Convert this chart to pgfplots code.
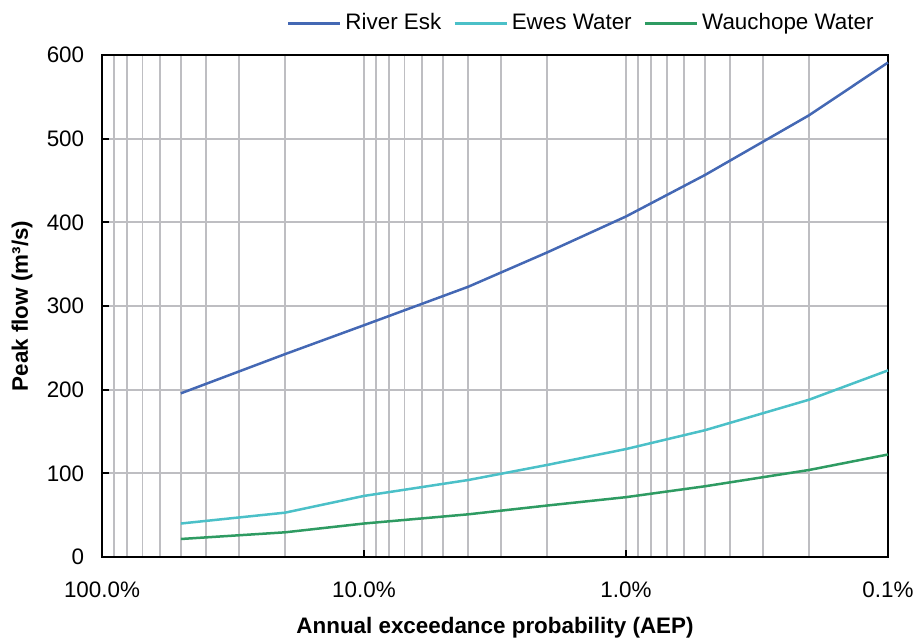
\documentclass[border=0pt]{standalone}
\usepackage{fontspec}
\setmainfont{Liberation Sans}
\usepackage{pgfplots}
\pgfplotsset{compat=1.18}
\definecolor{esk}{HTML}{4468B4}
\definecolor{ewes}{HTML}{4BC0C8}
\definecolor{wau}{HTML}{2E9B62}
\definecolor{gridc}{HTML}{BEBEC2}
\begin{document}
\fontsize{11.2}{13}\selectfont
\begin{tikzpicture}
\begin{axis}[
  scale only axis,
  width=393pt, height=251pt,
  xmode=log, x dir=reverse,
  xmin=0.1, xmax=100,
  ymin=0, ymax=600,
  ytick={0,100,...,600},
  xtick={100,10,1,0.1},
  xticklabels={100.0\%,10.0\%,1.0\%,0.1\%},
  minor xtick={90,80,70,60,50,40,30,20,9,8,7,6,5,4,3,2,0.9,0.8,0.7,0.6,0.5,0.4,0.3,0.2},
  grid=both,
  major grid style={gridc, line width=0.9pt},
  minor grid style={gridc, line width=0.9pt},
  axis line style={black, line width=1pt},
  tick style={black, line width=1pt},
  minor tick length=0pt,
  major tick length=3.5pt,
  tick align=inside,
  xtick pos=bottom, ytick pos=left,
  /pgf/number format/assume math mode=true,
  tick label style={font=\fontsize{11.2}{13}\selectfont},
  xticklabel style={yshift=-8.5pt},
  yticklabel style={xshift=-5pt},
  xlabel={\textbf{Annual exceedance probability (AEP)}},
  ylabel={\textbf{Peak flow (m³/s)}},
  xlabel style={at={(axis description cs:0.5,-0.141)}, anchor=center},
  ylabel style={at={(axis description cs:-0.1018,0.5)}, anchor=center},
  legend style={at={(axis description cs:1,1)}, anchor=south east, xshift=-2pt, yshift=6pt,
    draw=none, fill=none, legend columns=3, font=\fontsize{11.2}{13}\selectfont,
    nodes={text height=0.75em, text depth=0.22em, inner sep=2pt},
    /tikz/every even column/.append style={column sep=4pt}},
  legend image code/.code={\draw[#1] (0pt,0pt) -- (26pt,0pt);},
  clip=false,
]
\addplot[esk, line width=1.25pt] coordinates {
(50,195.6) (20,242.5) (10,277) (4,323) (2,364) (1,407) (0.5,456.5) (0.2,528) (0.1,591)};
\addlegendentry{River Esk}
\addplot[ewes, line width=1.25pt] coordinates {
(50,40) (20,53) (10,73) (4,92) (2,110) (1,129) (0.5,151.5) (0.2,188) (0.1,223)};
\addlegendentry{Ewes Water}
\addplot[wau, line width=1.25pt] coordinates {
(50,21.5) (20,29.5) (10,40) (4,51) (2,61.5) (1,71.5) (0.5,84.5) (0.2,104) (0.1,122.5)};
\addlegendentry{Wauchope Water}
\coordinate (bl) at (rel axis cs:0,0);
\coordinate (tr) at (rel axis cs:1,1);
\end{axis}
\pgfresetboundingbox
\path[use as bounding box] ([shift={(-51pt,-42pt)}]bl) rectangle ([shift={(14pt,27.5pt)}]tr);
\end{tikzpicture}
\end{document}
